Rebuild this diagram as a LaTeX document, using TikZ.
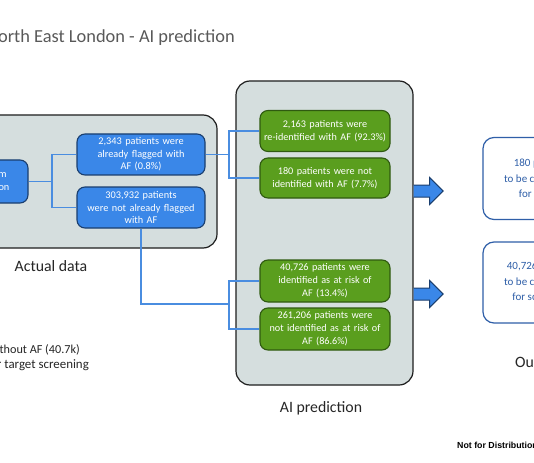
\documentclass[tikz,border=0pt]{standalone}
\usepackage{fontspec}
\setmainfont{Carlito}
\newfontfamily\notefont{Liberation Sans}
\definecolor{panelfill}{HTML}{D5DEDE}
\definecolor{panelline}{HTML}{1E1E1E}
\definecolor{bluefill}{HTML}{3A87E8}
\definecolor{blueline}{HTML}{1A3E6E}
\definecolor{greenfill}{HTML}{5A9E1E}
\definecolor{greenline}{HTML}{2F5A10}
\definecolor{connblue}{HTML}{4A8DE0}
\definecolor{outblue}{HTML}{2F5FA8}
\definecolor{titlegray}{HTML}{595959}
\begin{document}
\begin{tikzpicture}[x=1pt,y=-1pt,
  panel/.style={draw=panelline, line width=1.2pt, fill=panelfill, rounded corners=14pt, inner sep=0pt},
  bluebox/.style={draw=blueline, line width=1.1pt, fill=bluefill, rounded corners=8pt, text=white,
    font=\fontsize{10.3}{12.5}\selectfont, align=center, inner sep=0pt, minimum width=128pt, minimum height=41pt, text width=124pt},
  greenbox/.style={draw=greenline, line width=1.1pt, fill=greenfill, rounded corners=8pt, text=white,
    font=\fontsize{10.2}{13}\selectfont, align=center, inner sep=0pt, minimum width=130pt, minimum height=41pt, text width=128pt},
  outbox/.style={draw=outblue, line width=1.2pt, fill=white, rounded corners=11pt, text=outblue,
    font=\fontsize{11}{15.5}\selectfont, align=center, inner sep=0pt, minimum width=117pt, minimum height=82pt},
  conn/.style={draw=connblue, line width=1.3pt},
  lbl/.style={font=\fontsize{15.8}{18}\selectfont, text=black!85, inner sep=0pt},
  note/.style={anchor=east, font=\fontsize{12.2}{14}\selectfont, text=black!85, inner sep=0pt},
  blockarrow/.style={draw=blueline, line width=1pt, fill=bluefill, line join=miter}
]
\useasboundingbox (0,0) rectangle (534,462);
\fill[white] (0,0) rectangle (534,462);

% title
\node[anchor=base east, font=\fontsize{18.4}{22}\selectfont, text=titlegray, inner sep=0pt] (title) at (235,43) {North East London - AI prediction};

% panels
\node[panel, minimum width=247pt, minimum height=133pt] (actual) at (93.5,181.5) {};
\node[panel, minimum width=177pt, minimum height=304pt] (aipanel) at (324.5,233) {};

% left (cropped) source box
\node[bluebox, minimum width=100pt, minimum height=43pt, text width=96pt] (src) at (-22,181.5) {Patients from\\the population};

% actual data boxes
\node[bluebox] (A) at (141,154.5) {2,343 patients were\\already flagged with\\AF (0.8\%)};
\node[bluebox] (B) at (141,207.5) {303,932 patients\\were not already flagged\\with AF};

% AI boxes
\node[greenbox] (G1) at (325,131) {2,163 patients were\\re-identified with AF (92.3\%)};
\node[greenbox, minimum height=40pt] (G2) at (325,178) {180 patients were not\\identified with AF (7.7\%)};
\node[greenbox, minimum height=42pt] (G3) at (325,281) {40,726 patients were\\identified as at risk of\\AF (13.4\%)};
\node[greenbox, minimum height=42pt] (G4) at (325,329) {261,206 patients were\\not identified as at risk of\\AF (86.6\%)};

% connectors
\coordinate (j1) at (52,181.5);
\coordinate (j2) at (229,154.5);
\coordinate (j3) at (229,304);
\draw[conn] (src.east) -- (j1);
\draw[conn] (A.west) -| (j1);
\draw[conn] (B.west) -| (j1);
\draw[conn] (A.east) -- (j2);
\draw[conn] (G1.west) -| (j2);
\draw[conn] (G2.west) -| (j2);
\draw[conn] (B.south) |- (j3);
\draw[conn] (G3.west) -| (j3);
\draw[conn] (G4.west) -| (j3);

% block arrows
\coordinate (a1) at (aipanel.east |- 0,179);
\coordinate (a2) at (aipanel.east |- 0,282);
\foreach \a in {a1,a2}{
  \draw[blockarrow] ([yshift=-6pt]\a) -- ++(16,0) -- ++(0,-7.5) -- ++(13.5,13.5) -- ++(-13.5,13.5) -- ++(0,-7.5) -- ++(-16,0);
}

% output boxes
\node[outbox] (O1) at (541.5,178.5) {180 patients\\to be considered\\for review};
\node[outbox, minimum height=81pt] (O2) at (541.5,282.5) {40,726 patients\\to be considered\\for screening};

% labels
\node[lbl] (lactual) at (51,266) {Actual data};
\node[lbl] (lai) at (321,408) {AI prediction};
\node[lbl, anchor=west] (lout) at (515,362) {Outcome};

% bottom-left notes
\node[note] (n1) at (80,350) {Patients without AF (40.7k)};
\node[note, font=\fontsize{12.9}{14}\selectfont] (n2) at (89,365) {selected for target screening};

% footer
\node[anchor=west, font=\notefont\bfseries\fontsize{8.8}{10}\selectfont, inner sep=0pt] (foot) at (457,445) {Not for Distribution \textcopyright{} 2020};
\end{tikzpicture}
\end{document}
